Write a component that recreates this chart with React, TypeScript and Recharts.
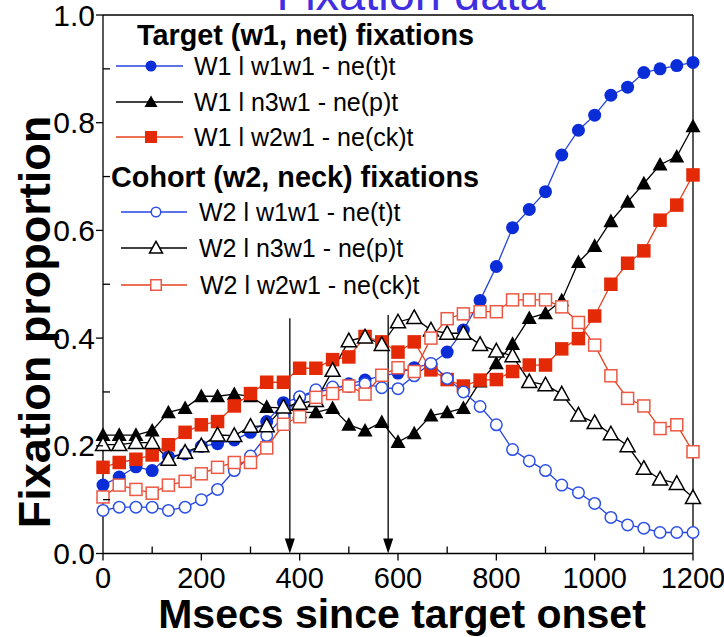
import { Line, LineChart, ReferenceLine, XAxis, YAxis } from "recharts";

// time bins (ms since target onset), one every 33 ms
const MSECS = [
  0, 33, 67, 100, 133, 167, 200, 233, 267, 300, 333, 367, 400, 433, 467, 500,
  533, 567, 600, 633, 667, 700, 733, 767, 800, 833, 867, 900, 933, 967, 1000,
  1033, 1067, 1100, 1133, 1167, 1200,
];

// target (W1) fixations
const W1_W1W1 = [
  0.127, 0.142, 0.161, 0.154, 0.18, 0.185, 0.199, 0.204, 0.211, 0.225, 0.245,
  0.28, 0.29, 0.3, 0.305, 0.315, 0.322, 0.33, 0.335, 0.345, 0.352, 0.374,
  0.415, 0.47, 0.533, 0.605, 0.639, 0.672, 0.74, 0.786, 0.814, 0.851, 0.866,
  0.893, 0.9, 0.906, 0.912,
];
const W1_N3W1 = [
  0.22, 0.22, 0.22, 0.228, 0.262, 0.27, 0.292, 0.292, 0.296, 0.292, 0.272,
  0.27, 0.262, 0.262, 0.27, 0.239, 0.228, 0.244, 0.207, 0.223, 0.256, 0.262,
  0.27, 0.319, 0.353, 0.389, 0.437, 0.446, 0.47, 0.541, 0.571, 0.617, 0.653,
  0.687, 0.722, 0.737, 0.793,
];
const W1_W2W1 = [
  0.16, 0.169, 0.175, 0.183, 0.202, 0.225, 0.239, 0.245, 0.274, 0.297, 0.318,
  0.318, 0.344, 0.344, 0.36, 0.365, 0.403, 0.393, 0.374, 0.393, 0.341, 0.323,
  0.311, 0.322, 0.323, 0.338, 0.35, 0.35, 0.38, 0.399, 0.441, 0.5, 0.539,
  0.562, 0.619, 0.647, 0.703,
];

// cohort (W2) fixations
const W2_W1W1 = [
  0.08, 0.086, 0.086, 0.086, 0.08, 0.086, 0.1, 0.119, 0.154, 0.181, 0.219,
  0.255, 0.291, 0.304, 0.309, 0.31, 0.315, 0.308, 0.306, 0.33, 0.353, 0.325,
  0.3, 0.273, 0.239, 0.193, 0.172, 0.154, 0.127, 0.113, 0.093, 0.067, 0.053,
  0.047, 0.039, 0.039, 0.039,
];
const W2_N3W1 = [
  0.202, 0.202, 0.206, 0.206, 0.175, 0.188, 0.2, 0.22, 0.219, 0.236, 0.237,
  0.272, 0.279, 0.284, 0.34, 0.395, 0.402, 0.388, 0.43, 0.438, 0.415, 0.409,
  0.409, 0.388, 0.376, 0.367, 0.319, 0.313, 0.296, 0.257, 0.243, 0.222, 0.2,
  0.158, 0.138, 0.13, 0.104,
];
const W2_W2W1 = [
  0.105, 0.127, 0.119, 0.112, 0.127, 0.134, 0.148, 0.16, 0.169, 0.169, 0.196,
  0.24, 0.254, 0.29, 0.297, 0.311, 0.296, 0.331, 0.345, 0.338, 0.4, 0.436,
  0.445, 0.449, 0.449, 0.471, 0.471, 0.471, 0.458, 0.429, 0.387, 0.33, 0.288,
  0.274, 0.232, 0.239, 0.189,
];

const X_TICKS = [0, 100, 200, 300, 400, 500, 600, 700, 800, 900, 1000, 1100, 1200];
const Y_TICKS = [0, 0.1, 0.2, 0.3, 0.4, 0.5, 0.6, 0.7, 0.8, 0.9, 1.0];

// arrows marking word offsets
const ARROW_MS = [380, 580];
const ARROW_TOP = [0.437, 0.443];

const FONT = '"Liberation Sans", Arial, Helvetica, sans-serif';
const BLUE = "#0b2dd8";
const BLUE_LINE = "#2443e0";
const BLUE_OPEN = "#2d50e6";
const RED = "#e32906";
const RED_LINE = "#e6401e";
const RED_OPEN = "#ec5843";
const BLACK = "#000";

const W = 724;
const H = 637;

type Shape = "circle" | "triangle" | "square";

type SeriesDef = {
  key: string;
  label: string;
  values: number[];
  shape: Shape;
  filled: boolean;
  color: string;
  line: string;
};

const SERIES: SeriesDef[] = [
  { key: "w1_w1w1", label: "W1 l w1w1 - ne(t)t", values: W1_W1W1, shape: "circle", filled: true, color: BLUE, line: BLUE_LINE },
  { key: "w1_n3w1", label: "W1 l n3w1 - ne(p)t", values: W1_N3W1, shape: "triangle", filled: true, color: BLACK, line: BLACK },
  { key: "w1_w2w1", label: "W1 l w2w1 - ne(ck)t", values: W1_W2W1, shape: "square", filled: true, color: RED, line: RED_LINE },
  { key: "w2_w1w1", label: "W2 l w1w1 - ne(t)t", values: W2_W1W1, shape: "circle", filled: false, color: BLUE_OPEN, line: BLUE_LINE },
  { key: "w2_n3w1", label: "W2 l n3w1 - ne(p)t", values: W2_N3W1, shape: "triangle", filled: false, color: BLACK, line: BLACK },
  { key: "w2_w2w1", label: "W2 l w2w1 - ne(ck)t", values: W2_W2W1, shape: "square", filled: false, color: RED_OPEN, line: RED_LINE },
];

const DATA = MSECS.map((ms, i) => {
  const row: Record<string, number> = { ms };
  SERIES.forEach((s) => {
    row[s.key] = s.values[i];
  });
  return row;
});

function Marker({
  cx,
  cy,
  shape,
  filled,
  color,
  size,
}: {
  cx: number;
  cy: number;
  shape: Shape;
  filled: boolean;
  color: string;
  size: number;
}) {
  const fill = filled ? color : "#fff";
  const sw = filled ? 0 : 1.5;
  if (shape === "circle") {
    return <circle cx={cx} cy={cy} r={size / 2 - sw / 2} fill={fill} stroke={color} strokeWidth={sw} />;
  }
  if (shape === "square") {
    const s = size - sw;
    return <rect x={cx - s / 2} y={cy - s / 2} width={s} height={s} fill={fill} stroke={color} strokeWidth={sw} />;
  }
  const half = size / 2 + 0.5;
  const top = cy - size * 0.55;
  const bot = cy + size * 0.42;
  return (
    <polygon
      points={`${cx},${top} ${cx + half},${bot} ${cx - half},${bot}`}
      fill={fill}
      stroke={color}
      strokeWidth={sw}
      strokeLinejoin="miter"
    />
  );
}

function dotFor(s: SeriesDef) {
  const size = s.shape === "circle" ? 13 : s.shape === "square" ? 13.5 : 14;
  return (props: { cx?: number; cy?: number; index?: number }) => {
    const { cx, cy, index } = props;
    if (cx == null || cy == null) return <g key={`${s.key}-${index}`} />;
    return (
      <g key={`${s.key}-${index}`}>
        <Marker cx={cx} cy={cy} shape={s.shape} filled={s.filled} color={s.color} size={size} />
      </g>
    );
  };
}

type TickProps = { x?: number; y?: number; payload?: { value: number } };

function XTick({ x = 0, y = 0, payload }: TickProps) {
  const v = payload ? payload.value : 0;
  const major = v % 200 === 0;
  if (!major) {
    return <line x1={x} y1={y} x2={x} y2={y - 7} stroke={BLACK} strokeWidth={1.3} />;
  }
  return (
    <g>
      <line x1={x} y1={y} x2={x} y2={y + 7} stroke={BLACK} strokeWidth={1.3} />
      <text x={x} y={y + 34} textAnchor="middle" fontFamily={FONT} fontSize={29} fill={BLACK}>
        {v}
      </text>
    </g>
  );
}

function YTick({ x = 0, y = 0, payload }: TickProps) {
  const v = payload ? payload.value : 0;
  const major = Math.round(v * 10) % 2 === 0;
  if (!major) {
    return <line x1={x} y1={y} x2={x + 7} y2={y} stroke={BLACK} strokeWidth={1.3} />;
  }
  return (
    <g>
      <line x1={x - 7} y1={y} x2={x} y2={y} stroke={BLACK} strokeWidth={1.3} />
      <text x={x - 8} y={y + 10.5} textAnchor="end" fontFamily={FONT} fontSize={30} fill={BLACK}>
        {v.toFixed(1)}
      </text>
    </g>
  );
}

function ArrowShape(props: { x1?: number; y1?: number; x2?: number; y2?: number }) {
  const { x1 = 0, y1 = 0, x2 = 0, y2 = 0 } = props;
  return (
    <g>
      <line x1={x1} y1={y1} x2={x2} y2={y2 - 12} stroke={BLACK} strokeWidth={1.3} />
      <polygon points={`${x2 - 5},${y2 - 15} ${x2 + 5},${y2 - 15} ${x2},${y2}`} fill={BLACK} />
    </g>
  );
}

// legend rows, in page pixels
const LEGEND_ROWS = [
  { series: 0, y: 66, lineX: [116, 183], markX: 151, textX: 194 },
  { series: 1, y: 102, lineX: [116, 183], markX: 151, textX: 194 },
  { series: 2, y: 137, lineX: [116, 183], markX: 151, textX: 194 },
  { series: 3, y: 212, lineX: [121, 187], markX: 156, textX: 199 },
  { series: 4, y: 248, lineX: [121, 187], markX: 156, textX: 199 },
  { series: 5, y: 285, lineX: [121, 187], markX: 156, textX: 200 },
];

function Overlay() {
  return (
    <svg
      width={W}
      height={H}
      style={{ position: "absolute", left: 0, top: 0, pointerEvents: "none" }}
    >
      <text x={411} y={10} textAnchor="middle" fontFamily={FONT} fontSize={47} fill="#3f2fe0">
        Fixation data
      </text>

      <text x={137} y={45} fontFamily={FONT} fontSize={28.8} fontWeight="bold" fill={BLACK}>
        Target (w1, net) fixations
      </text>
      <text x={111} y={187} fontFamily={FONT} fontSize={28.8} fontWeight="bold" fill={BLACK}>
        Cohort (w2, neck) fixations
      </text>

      {LEGEND_ROWS.map((r) => {
        const s = SERIES[r.series];
        const size = s.shape === "circle" ? 11 : 12;
        return (
          <g key={s.key}>
            <line x1={r.lineX[0]} y1={r.y} x2={r.lineX[1]} y2={r.y} stroke={s.line} strokeWidth={1.3} />
            <Marker cx={r.markX} cy={r.y} shape={s.shape} filled={s.filled} color={s.color} size={size} />
            <text x={r.textX} y={r.y + 9} fontFamily={FONT} fontSize={25} fill={BLACK}>
              {s.label}
            </text>
          </g>
        );
      })}

      <text
        transform="translate(50,322) rotate(-90)"
        textAnchor="middle"
        fontFamily={FONT}
        fontSize={45}
        fontWeight="bold"
        fill={BLACK}
      >
        Fixation proportion
      </text>
      <text x={402} y={628} textAnchor="middle" fontFamily={FONT} fontSize={41} fontWeight="bold" fill={BLACK}>
        Msecs since target onset
      </text>
    </svg>
  );
}

export default function App() {
  return (
    <div style={{ position: "absolute", left: 0, top: 0, width: W, height: H, background: "#fff" }}>
      <LineChart
        width={W}
        height={H}
        data={DATA}
        margin={{ top: 15, right: 31, bottom: 43.5, left: 0 }}
      >
        <XAxis
          dataKey="ms"
          type="number"
          domain={[0, 1200]}
          ticks={X_TICKS}
          interval={0}
          tick={<XTick />}
          tickLine={false}
          tickSize={0}
          tickMargin={0}
          height={40}
          axisLine={{ stroke: BLACK, strokeWidth: 1.3 }}
        />
        <YAxis
          type="number"
          domain={[0, 1]}
          ticks={Y_TICKS}
          interval={0}
          tick={<YTick />}
          tickLine={false}
          tickSize={0}
          tickMargin={0}
          width={103}
          axisLine={{ stroke: BLACK, strokeWidth: 1.3 }}
        />
        <ReferenceLine y={1} stroke={BLACK} strokeWidth={1.3} />
        <ReferenceLine x={1200} stroke={BLACK} strokeWidth={1.3} />
        {ARROW_MS.map((ms, i) => (
          <ReferenceLine
            key={`arrow-${ms}`}
            segment={[
              { x: ms, y: ARROW_TOP[i] },
              { x: ms, y: 0 },
            ]}
            shape={<ArrowShape />}
          />
        ))}
        {SERIES.map((s) => (
          <Line
            key={s.key}
            dataKey={s.key}
            type="linear"
            stroke={s.line}
            strokeWidth={1.3}
            dot={dotFor(s)}
            activeDot={false}
            isAnimationActive={false}
          />
        ))}
      </LineChart>
      <Overlay />
    </div>
  );
}
